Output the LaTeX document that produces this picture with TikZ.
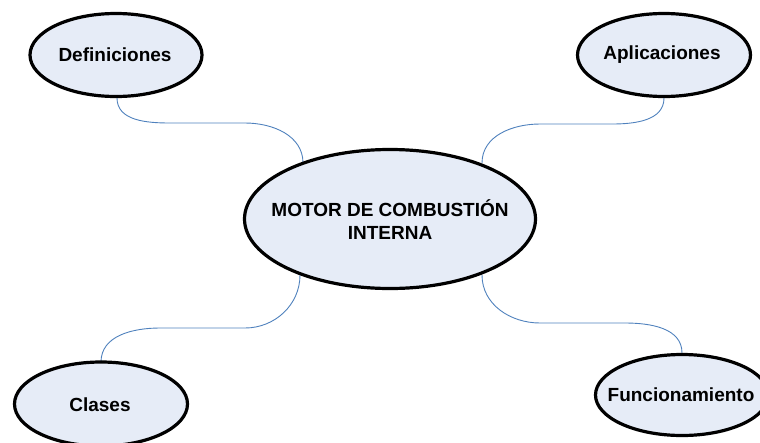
\documentclass[tikz,border=0pt]{standalone}
\usepackage{fontspec}
\setmainfont{Liberation Sans}
\usetikzlibrary{shapes.geometric}
\definecolor{bubblefill}{RGB}{230,236,247}
\definecolor{linkblue}{RGB}{79,129,189}
\tikzset{
  bubble/.style={ellipse, draw=black, line width=3.2pt, fill=bubblefill, inner sep=0pt},
  bubbletext/.style={font=\fontsize{19}{23}\selectfont\bfseries, align=center, inner sep=0pt},
  link/.style={draw=linkblue, line width=0.9pt},
}
\begin{document}
\begin{tikzpicture}[x=1pt, y=-1pt]
  \useasboundingbox (0,0) rectangle (760,442);
  \clip (0,0) rectangle (760,442);

  % connectors (drawn first, so the ellipses cover their ends)
  \coordinate (cDef) at (303,163);
  \coordinate (cApl) at (482,163);
  \coordinate (cCla) at (300,275);
  \coordinate (cFun) at (482,275);
  \coordinate (def) at (117,98);
  \coordinate (apl) at (664,98);
  \coordinate (cla) at (101,362);
  \coordinate (fun) at (682,353);

  \draw[link] (def) to[out=-90,in=180] (170,123) -- (245,123) to[out=0,in=90] (cDef);
  \draw[link] (apl) to[out=-90,in=0] (612,124) -- (540,124) to[out=180,in=90] (cApl);
  \draw[link] (cCla) to[out=-90,in=0] (245,328) -- (160,328) to[out=180,in=90] (cla);
  \draw[link] (cFun) to[out=-90,in=180] (540,323) -- (625,323) to[out=0,in=90] (fun);

  % bubbles
  \node[bubble, minimum width=291pt, minimum height=139pt] (motor) at (390,219) {};
  \node[bubbletext] (motorT) at (390,220) {MOTOR DE COMBUSTIÓN\\INTERNA};

  \node[bubble, minimum width=172pt, minimum height=83pt] (definiciones) at (116,55) {};
  \node[bubbletext] (definicionesT) at (115,55) {Definiciones};

  \node[bubble, minimum width=173pt, minimum height=83pt] (aplicaciones) at (664,55) {};
  \node[bubbletext] (aplicacionesT) at (662,55) {Aplicaciones};

  \node[bubble, minimum width=173pt, minimum height=84pt] (clases) at (101,404) {};
  \node[bubbletext] (clasesT) at (100,405) {Clases};

  \node[bubble, minimum width=173pt, minimum height=81pt] (funcionamiento) at (682,395) {};
  \node[bubbletext] (funcionamientoT) at (681,395) {Funcionamiento};
\end{tikzpicture}
\end{document}
